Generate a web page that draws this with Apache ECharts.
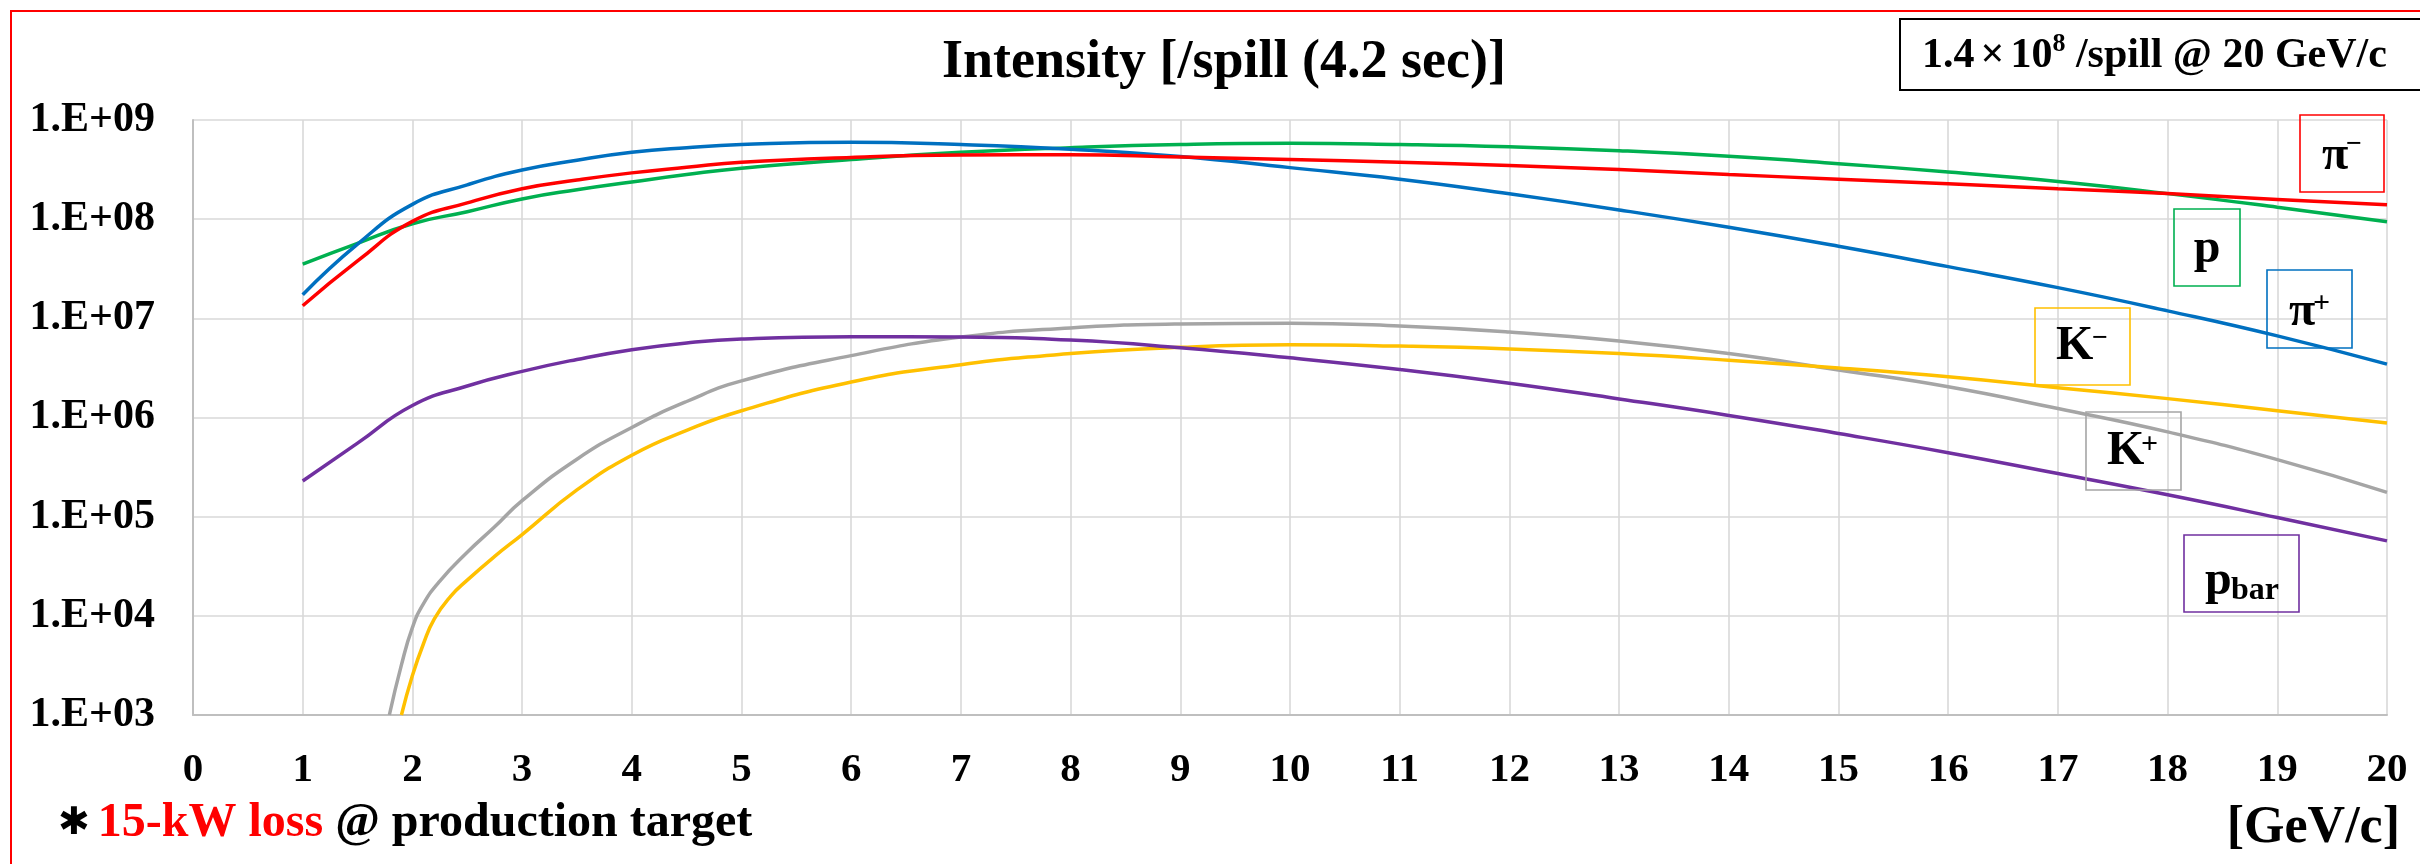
<!DOCTYPE html>
<html>
<head>
<meta charset="utf-8">
<script src="https://cdn.jsdelivr.net/npm/echarts@6/dist/echarts.min.js"></script>
<style>
html,body{margin:0;padding:0;background:#fff;}
#chart{width:2420px;height:864px;}
</style>
</head>
<body>
<div id="chart"></div>
<script>
// ---- data ----
const momentum = [1, 1.5, 2, 2.5, 3, 3.5, 4, 4.5, 5, 6, 7, 8, 9, 10, 11, 12, 13, 14, 15, 16, 17, 18, 19, 20];
const piMinus = [1.34e7, 3.79e7, 9.5e7, 1.46e8, 2.03e8, 2.48e8, 2.93e8, 3.33e8, 3.75e8, 4.19e8, 4.43e8, 4.47e8, 4.23e8, 4.0e8, 3.75e8, 3.48e8, 3.16e8, 2.82e8, 2.53e8, 2.27e8, 2.03e8, 1.81e8, 1.58e8, 1.40e8];
const proton = [3.53e7, 5.70e7, 9.0e7, 1.19e8, 1.60e8, 1.98e8, 2.37e8, 2.82e8, 3.27e8, 4.0e8, 4.72e8, 5.26e8, 5.66e8, 5.82e8, 5.66e8, 5.36e8, 4.9e8, 4.31e8, 3.63e8, 2.99e8, 2.40e8, 1.81e8, 1.32e8, 9.4e7];
const piPlus = [1.73e7, 5.6e7, 1.41e8, 2.22e8, 3.13e8, 3.93e8, 4.72e8, 5.26e8, 5.66e8, 5.98e8, 5.66e8, 5.08e8, 4.28e8, 3.31e8, 2.53e8, 1.80e8, 1.24e8, 8.28e7, 5.33e7, 3.32e7, 2.04e7, 1.19e7, 6.65e6, 3.45e6];
const pBar = [2.29e5, 5.51e5, 1.32e6, 2.08e6, 2.92e6, 3.85e6, 4.83e6, 5.65e6, 6.19e6, 6.53e6, 6.47e6, 6.03e6, 5.06e6, 4.0e6, 3.05e6, 2.22e6, 1.54e6, 1.05e6, 6.9e5, 4.42e5, 2.72e5, 1.66e5, 9.8e4, 5.7e4];
const kPlusMomentum = [1.79, 1.9, 2, 2.1, 2.25, 2.5, 2.75, 3, 3.5, 4, 4.5, 5, 6, 7, 8, 9, 10, 11, 12, 13, 14, 15, 16, 17, 18, 19, 20];
const kPlus = [1.0e3, 3.2e3, 7.6e3, 1.32e4, 2.24e4, 4.37e4, 7.9e4, 1.45e5, 3.8e5, 7.94e5, 1.45e6, 2.34e6, 4.21e6, 6.47e6, 8.0e6, 8.77e6, 8.93e6, 8.37e6, 7.29e6, 5.92e6, 4.41e6, 3.02e6, 2.04e6, 1.23e6, 7.16e5, 3.76e5, 1.76e5];
const kMinusMomentum = [1.9, 2, 2.1, 2.2, 2.35, 2.5, 2.75, 3, 3.5, 4, 4.5, 5, 6, 7, 8, 9, 10, 11, 12, 13, 14, 15, 16, 17, 18, 19, 20];
const kMinus = [1.0e3, 2.5e3, 5.2e3, 9.3e3, 1.58e4, 2.29e4, 3.98e4, 6.6e4, 1.86e5, 4.17e5, 7.41e5, 1.17e6, 2.28e6, 3.41e6, 4.41e6, 5.1e6, 5.4e6, 5.25e6, 4.92e6, 4.41e6, 3.78e6, 3.16e6, 2.57e6, 2.0e6, 1.55e6, 1.17e6, 8.8e5];
const yTickLabels = ['1.E+03', '1.E+04', '1.E+05', '1.E+06', '1.E+07', '1.E+08', '1.E+09'];
const xTickLabels = ['0','1','2','3','4','5','6','7','8','9','10','11','12','13','14','15','16','17','18','19','20'];

const SERIF = '"Liberation Serif","Times New Roman",serif';
function pairs(xs, ys){ return xs.map((x,i)=>[x, ys[i]]); }
function line(name, xs, ys, color){
  return { name, type:'line', data: pairs(xs, ys), smooth: true, symbol:'none', clip:true,
    lineStyle:{ color, width:3.5 }, itemStyle:{color}, z: 3 };
}
function txt(x, y, text, size, align, color){
  return { type:'text', x, y, z:50, style:{ text, font:'bold '+size+'px '+SERIF, fill: color||'#000',
    align: align||'left', verticalAlign:'middle' } };
}
function box(x, y, w, h, color){
  return { type:'rect', z:40, shape:{x, y, width:w, height:h}, style:{ fill:'rgba(0,0,0,0)', stroke:color, lineWidth:1.6 } };
}

const chart = echarts.init(document.getElementById('chart'), null, {renderer:'canvas'});
chart.setOption({
  animation:false,
  backgroundColor:'#fff',
  grid:{ left:193, right:33, top:120, bottom:149, containLabel:false },
  xAxis:{ type:'value', min:0, max:20, interval:1,
    axisLine:{ show:true, lineStyle:{ color:'#BFBFBF', width:2 } },
    axisTick:{ show:false },
    splitLine:{ show:true, lineStyle:{ color:'#D9D9D9', width:1.6 } },
    axisLabel:{ margin:35, fontSize:41, fontWeight:'bold', fontFamily:SERIF, color:'#000',
      formatter: v => xTickLabels[Math.round(v)] } },
  yAxis:{ type:'log', logBase:10, min:1e3, max:1e9, interval:1,
    axisLine:{ show:true, lineStyle:{ color:'#BFBFBF', width:2 } },
    axisTick:{ show:false },
    splitLine:{ show:true, lineStyle:{ color:'#D9D9D9', width:1.6 } },
    axisLabel:{ margin:38, fontSize:42, fontWeight:'bold', fontFamily:SERIF, color:'#000',
      formatter: v => yTickLabels[Math.round(Math.log10(v)) - 3] } },
  series:[
    line('K+', kPlusMomentum, kPlus, '#A5A5A5'),
    line('K-', kMinusMomentum, kMinus, '#FFC000'),
    line('pbar', momentum, pBar, '#7030A0'),
    line('p', momentum, proton, '#00B050'),
    line('pi+', momentum, piPlus, '#0070C0'),
    line('pi-', momentum, piMinus, '#FF0000')
  ],
  graphic:[
    // outer red frame
    { type:'rect', z:60, shape:{x:11, y:11, width:2430, height:880}, style:{fill:'rgba(0,0,0,0)', stroke:'#FF0000', lineWidth:2} },
    // title
    txt(1224, 63, 'Intensity [/spill (4.2 sec)]', 54, 'center'),
    // info box
    { type:'rect', z:60, shape:{x:1900, y:19, width:540, height:71}, style:{fill:'#fff', stroke:'#000', lineWidth:2} },
    { type:'text', x:1922, y:56, z:61, style:{ text:'{m|1.4}{x|×}{m|10}{s|8}{m| /spill @ 20 GeV/c}', verticalAlign:'middle', align:'left',
      rich:{ m:{ font:'bold 42px '+SERIF, fill:'#000', lineHeight:50 },
             x:{ font:'bold 42px '+SERIF, fill:'#000', lineHeight:50, padding:[0,6,0,6] },
             s:{ font:'bold 26px '+SERIF, fill:'#000', lineHeight:38, verticalAlign:'top' } } } },
    // footnote
    { type:'text', x:58, y:824, z:61, style:{ text:'{a|✱}{b|15-kW loss}{c| @ production target}', verticalAlign:'middle', align:'left',
      rich:{ a:{ font:'bold 38px "DejaVu Sans"', fill:'#000', lineHeight:50, padding:[0,8,0,0] },
             b:{ font:'bold 48px '+SERIF, fill:'#FF0000', lineHeight:50 },
             c:{ font:'bold 48px '+SERIF, fill:'#000', lineHeight:50 } } } },
    txt(2400, 829, '[GeV/c]', 52, 'right'),
    // series labels
    box(2300, 115, 84, 77, '#FF0000'),
    txt(2322, 157, 'π', 48), txt(2346, 145, '−', 28),
    box(2174, 209, 66, 77, '#00B050'),
    txt(2207, 250, 'p', 48, 'center'),
    box(2267, 270, 85, 78, '#0070C0'),
    txt(2289, 313, 'π', 48), txt(2313, 304, '+', 30),
    box(2035, 308, 95, 77, '#FFC000'),
    txt(2056, 347, 'K', 48), txt(2092, 339, '−', 28),
    box(2086, 412, 95, 78, '#A5A5A5'),
    txt(2107, 452, 'K', 48), txt(2141, 445, '+', 30),
    box(2184, 535, 115, 77, '#7030A0'),
    txt(2205, 582, 'p', 48), txt(2231, 591, 'bar', 32)
  ]
});
</script>
</body>
</html>
